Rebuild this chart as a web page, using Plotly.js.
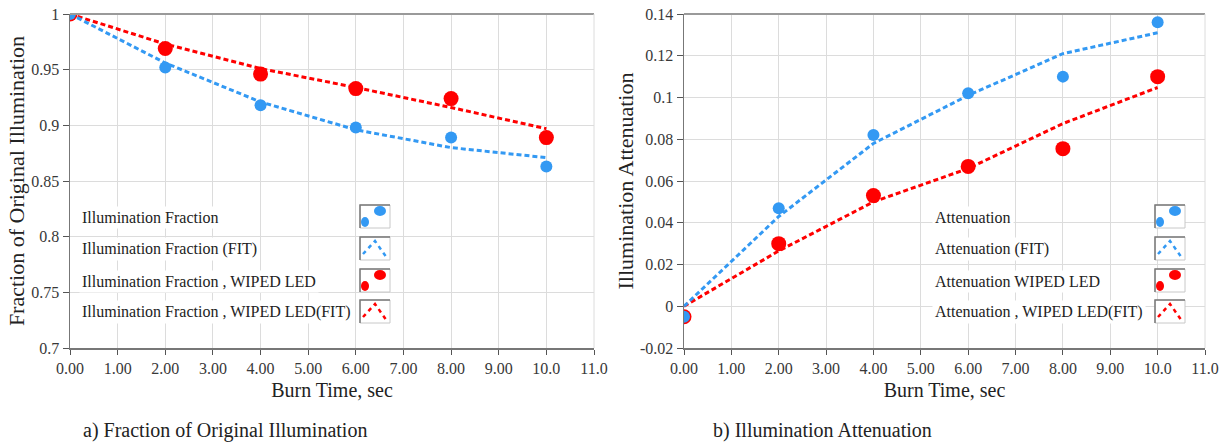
<!DOCTYPE html>
<html>
<head>
<meta charset="utf-8">
<script src="https://cdn.plot.ly/plotly-3.0.1.min.js"></script>
<style>
  html, body { margin: 0; padding: 0; background: #ffffff; }
  #chart { width: 1225px; height: 445px; }
</style>
</head>
<body>
<div id="chart"></div>
<script>
// ---------------- data ----------------
const burnTime = [0, 2, 4, 6, 8, 10];

// a) Fraction of Original Illumination
const fracMeas       = [1.000, 0.952, 0.918, 0.898, 0.889, 0.863];
const fracFit        = [1.000, 0.956, 0.921, 0.896, 0.880, 0.871];
const fracWipedMeas  = [1.000, 0.969, 0.946, 0.933, 0.924, 0.889];
const fracWipedFit   = [1.000, 0.973, 0.951, 0.934, 0.916, 0.897];

// b) Illumination Attenuation
const attenMeas      = [-0.005, 0.047, 0.082, 0.102, 0.110, 0.136];
const attenFit       = [0.000, 0.043, 0.078, 0.101, 0.121, 0.131];
const attenWipedMeas = [-0.005, 0.030, 0.053, 0.067, 0.0755, 0.110];
const attenWipedFit  = [0.000, 0.0265, 0.050, 0.066, 0.0875, 0.1048];

// tick labels
const xTickVals = [0, 1, 2, 3, 4, 5, 6, 7, 8, 9, 10, 11];
const xTickText = ['0.00', '1.00', '2.00', '3.00', '4.00', '5.00', '6.00', '7.00', '8.00', '9.00', '10.0', '11.0'];
const y2TickVals = [-0.02, 0, 0.02, 0.04, 0.06, 0.08, 0.1, 0.12, 0.14];
const y2TickText = ['-0.02', '0', '0.02', '0.04', '0.06', '0.08', '0.1', '0.12', '0.14'];

// legend labels
const legendA = ['Illumination Fraction', 'Illumination Fraction (FIT)',
                 'Illumination Fraction , WIPED LED', 'Illumination Fraction , WIPED LED(FIT)'];
const legendB = ['Attenuation', 'Attenuation (FIT)', 'Attenuation WIPED LED', 'Attenuation , WIPED LED(FIT)'];

// ---------------- styling ----------------
const BLUE = '#3399f3';
const RED = '#ff0000';
const FONT = 'Liberation Serif, Times New Roman, serif';
const W = 1225, H = 445;
const M = {l: 70, r: 20, t: 14, b: 97};
const PW = W - M.l - M.r, PH = H - M.t - M.b;
const px = x => (x - M.l) / PW;          // pixel -> paper x
const py = y => (H - M.b - y) / PH;      // pixel -> paper y

function markerTrace(x, y, color, size, xa, ya, name) {
  return {x, y, type: 'scatter', mode: 'markers', name, xaxis: xa, yaxis: ya,
          marker: {color, size, line: {width: 0}}, showlegend: false, hoverinfo: 'x+y'};
}
function fitTrace(x, y, color, xa, ya, name) {
  return {x, y, type: 'scatter', mode: 'lines', name, xaxis: xa, yaxis: ya,
          line: {color, width: 3, dash: '5px,3px'}, showlegend: false, hoverinfo: 'x+y'};
}

const traces = [
  fitTrace(burnTime, fracWipedFit, RED, 'x', 'y', legendA[3]),
  fitTrace(burnTime, fracFit, BLUE, 'x', 'y', legendA[1]),
  markerTrace(burnTime, fracWipedMeas, RED, 15, 'x', 'y', legendA[2]),
  markerTrace(burnTime, fracMeas, BLUE, 12, 'x', 'y', legendA[0]),

  fitTrace(burnTime, attenWipedFit, RED, 'x2', 'y2', legendB[3]),
  fitTrace(burnTime, attenFit, BLUE, 'x2', 'y2', legendB[1]),
  markerTrace(burnTime, attenWipedMeas, RED, 15, 'x2', 'y2', legendB[2]),
  markerTrace(burnTime, attenMeas, BLUE, 12, 'x2', 'y2', legendB[0]),
];

const tickFont = {family: FONT, size: 16, color: '#383838'};
const axisTitleFont = {family: FONT, size: 20, color: '#222'};
const yTitleFont = {family: FONT, size: 22, color: '#222'};

function xAxis(domain, anchor) {
  return {domain, anchor, range: [0, 11], tickvals: xTickVals, ticktext: xTickText,
          showgrid: true, gridcolor: '#dcdcdc', gridwidth: 1, zeroline: false,
          showline: true, linecolor: '#777', linewidth: 1.5,
          ticks: 'outside', ticklen: 5, tickcolor: '#555', tickwidth: 1,
          tickfont: tickFont,
          title: {text: 'Burn Time, sec', font: axisTitleFont, standoff: 7}};
}

const layout = {
  width: W, height: H,
  margin: M,
  paper_bgcolor: '#ffffff', plot_bgcolor: '#ffffff',
  showlegend: false,
  xaxis: xAxis([0, 524 / PW], 'y'),
  yaxis: {domain: [0, 1], anchor: 'x', range: [0.7, 1.0], dtick: 0.05, tick0: 0.7,
          showgrid: true, gridcolor: '#dcdcdc', zeroline: false,
          showline: true, linecolor: '#777', linewidth: 1.5,
          ticks: 'outside', ticklen: 6, tickcolor: '#555', tickfont: tickFont,
          title: {text: 'Fraction of Original Illumination', font: yTitleFont, standoff: 0}},
  xaxis2: xAxis([(684 - M.l) / PW, 1], 'y2'),
  yaxis2: {domain: [0, 1], anchor: 'x2', range: [-0.02, 0.14],
           tickvals: y2TickVals, ticktext: y2TickText,
           showgrid: true, gridcolor: '#dcdcdc', zeroline: false,
           showline: true, linecolor: '#777', linewidth: 1.5,
           ticks: 'outside', ticklen: 6, tickcolor: '#555', tickfont: tickFont,
           title: {text: 'Illumination Attenuation', font: yTitleFont, standoff: 0}},
  shapes: [],
  annotations: []
};

// top and right frame lines
[['x', 'y'], ['x2', 'y2']].forEach(([xa, ya]) => {
  layout.shapes.push({type: 'line', xref: xa + ' domain', yref: ya + ' domain',
    x0: 0, x1: 1, y0: 1, y1: 1, line: {color: '#9a9a9a', width: 2}});
  layout.shapes.push({type: 'line', xref: xa + ' domain', yref: ya + ' domain',
    x0: 1, x1: 1, y0: 0, y1: 1, line: {color: '#dcdcdc', width: 1}});
});

// captions
layout.annotations.push({text: 'a) Fraction of Original Illumination', xref: 'paper', yref: 'paper',
  x: px(81), y: py(430), xanchor: 'left', yanchor: 'middle', showarrow: false,
  font: {family: FONT, size: 20, color: '#222'}});
layout.annotations.push({text: 'b) Illumination Attenuation', xref: 'paper', yref: 'paper',
  x: px(711), y: py(430), xanchor: 'left', yanchor: 'middle', showarrow: false,
  font: {family: FONT, size: 20, color: '#222'}});

// custom legend (text on the left, icon box on the right)
function buildLegend(labels, textX, boxX) {
  const rows = [217, 249, 281, 312];
  const kinds = [['marker', BLUE], ['fit', BLUE], ['marker', RED], ['fit', RED]];
  labels.forEach((lab, i) => {
    const yc = rows[i];
    layout.annotations.push({text: lab, xref: 'paper', yref: 'paper',
      x: px(textX), y: py(yc), xanchor: 'left', yanchor: 'middle', showarrow: false,
      bgcolor: '#ffffff', borderpad: 2,
      font: {family: FONT, size: 16, color: '#222'}});
    const l = boxX, r = boxX + 30, t = yc - 12, b = yc + 11;
    layout.shapes.push({type: 'rect', xref: 'paper', yref: 'paper',
      x0: px(l), x1: px(r), y0: py(b), y1: py(t), fillcolor: '#ffffff',
      line: {color: '#c8c8c8', width: 1}});
    layout.shapes.push({type: 'path', xref: 'paper', yref: 'paper',
      path: `M ${px(l)},${py(b)} L ${px(l)},${py(t)} L ${px(r)},${py(t)}`,
      line: {color: '#7a7a7a', width: 1.5}});
    const [kind, color] = kinds[i];
    if (kind === 'marker') {
      layout.shapes.push({type: 'circle', xref: 'paper', yref: 'paper',
        x0: px(l + 1), x1: px(l + 9), y0: py(b - 1), y1: py(b - 11),
        fillcolor: color, line: {width: 0}});
      layout.shapes.push({type: 'circle', xref: 'paper', yref: 'paper',
        x0: px(l + 14), x1: px(l + 26), y0: py(t + 11), y1: py(t + 1),
        fillcolor: color, line: {width: 0}});
    } else {
      layout.shapes.push({type: 'path', xref: 'paper', yref: 'paper',
        path: `M ${px(l + 3)},${py(b - 6)} L ${px(l + 15)},${py(t + 4)} L ${px(l + 27)},${py(b - 2)}`,
        line: {color, width: 2.5, dash: '4px,4px'}});
    }
  });
}
buildLegend(legendA, 79, 360);
buildLegend(legendB, 932, 1155);

Plotly.newPlot('chart', traces, layout, {displayModeBar: false, staticPlot: true});
</script>
</body>
</html>
